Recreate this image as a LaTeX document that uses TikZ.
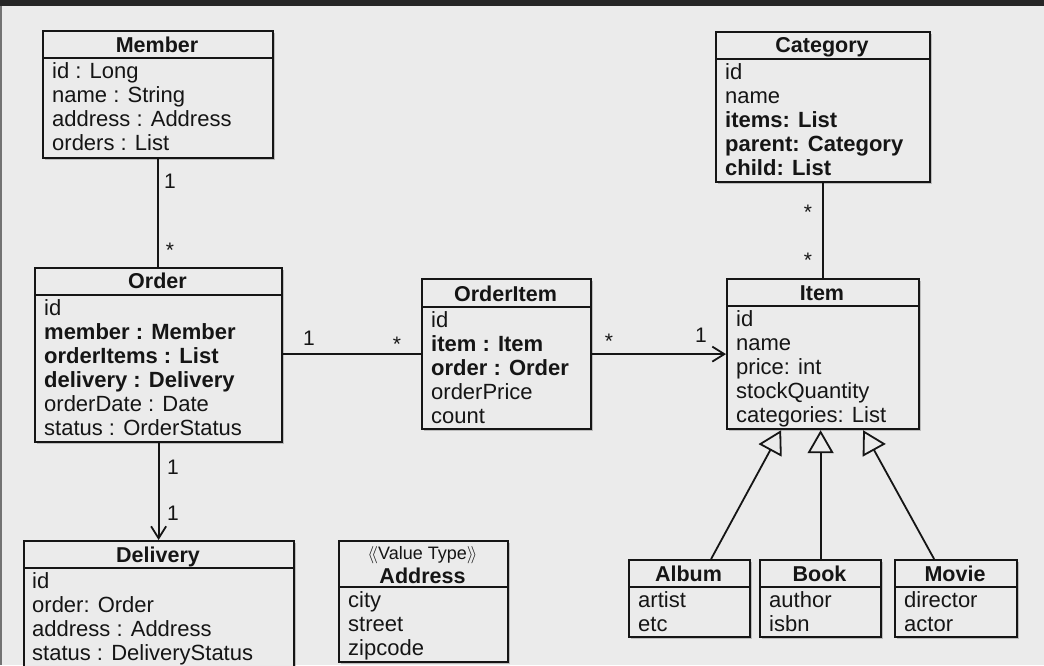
\documentclass[tikz,border=0pt]{standalone}
\usepackage{fontspec}
\setmainfont{Liberation Sans}
\usetikzlibrary{arrows.meta,shadows,calc}
\definecolor{bgc}{HTML}{EBEBEB}
\definecolor{barc}{HTML}{262626}
\definecolor{ink}{HTML}{151515}
\tikzset{
  box/.style={draw=ink, line width=2.2pt, fill=bgc, rectangle, inner sep=0pt, anchor=north west,
    drop shadow={shadow xshift=1.5pt, shadow yshift=-2pt, opacity=0.35, fill=black!60}},
  hline/.style={draw=ink, line width=2pt},
  attr/.style={anchor=base west, inner sep=0pt, text=ink, font=\fontsize{22}{24}\selectfont},
  ttl/.style={anchor=base, inner sep=0pt, text=ink, font=\fontsize{21.5}{24}\selectfont\bfseries},
  stereo/.style={anchor=base, inner sep=0pt, text=ink, font=\fontsize{18}{20}\selectfont},
  mult/.style={anchor=base, inner sep=0pt, text=ink, font=\fontsize{21}{24}\selectfont},
  assoc/.style={draw=ink, line width=1.8pt},
  nav/.style={assoc, -{Straight Barb[length=12pt,width=15pt]}},
  gen/.style={assoc, -{Triangle[open,length=23pt,width=26pt,fill=bgc]}},
}
% name, x1, y1, x2, y2, header y, title baseline, title
\newcommand\umlclass[8]{%
  \node[box, minimum width={#4-#2}, minimum height={#5-#3}] (#1) at (#2,#3) {};
  \draw[hline] (#2,#6) -- (#4,#6);
  \node[ttl] (#1-title) at ({(#2+#4)/2},#7) {#8};
}
% name, x, first baseline, list
\newcommand\umlattrs[4]{%
  \foreach \txt [count=\i] in {#4} {\node[attr] (#1-a\i) at (#2,{#3+24*(\i-1)}) {\txt};}
}
\begin{document}
\begin{tikzpicture}[x=1pt,y=-1pt]
\useasboundingbox (0,0) rectangle (1044,665);
\clip (0,0) rectangle (1044,665);
\fill[bgc] (0,0) rectangle (1044,665);
\fill[barc] (0,0) rectangle (1044,6);
\fill[black!55] (0,6) rectangle (1.5,665);

% classes
\umlclass{member}{42}{30}{272}{157}{58}{52}{Member}
\umlattrs{member}{52}{78}{id : Long, name : String, address : Address, orders : List}

\umlclass{order}{34}{267}{281}{441}{295}{288}{Order}
\umlattrs{order}{44}{315}{id, {\bfseries member : Member}, {\bfseries orderItems : List}, {\bfseries delivery : Delivery}, orderDate : Date, status : OrderStatus}

\umlclass{orderitem}{421}{278}{590}{428}{307}{301}{OrderItem}
\umlattrs{orderitem}{431}{327}{id, {\bfseries item : Item}, {\bfseries order : Order}, orderPrice, count}

\umlclass{item}{726}{278}{918}{428}{306}{300}{Item}
\umlattrs{item}{736}{326}{id, name, price: int, stockQuantity, categories: List}

\umlclass{category}{715}{31}{929}{181}{59}{52}{Category}
\umlattrs{category}{725}{79}{id, name, {\bfseries items: List}, {\bfseries parent: Category}, {\bfseries child: List}}

\umlclass{delivery}{23}{540}{293}{690}{568}{562}{Delivery}
\umlattrs{delivery}{32}{588}{id, order: Order, address : Address, status : DeliveryStatus}

\umlclass{address}{338}{540}{507}{661}{587}{583}{Address}
\node[stereo] (address-stereo) at (422.5,559) {$\langle\!\langle$Value Type$\rangle\!\rangle$};
\umlattrs{address}{348}{607}{city, street, zipcode}

\umlclass{album}{628}{559}{749}{636}{587}{581}{Album}
\umlattrs{album}{638}{607}{artist, etc}
\umlclass{book}{759}{559}{880}{636}{587}{581}{Book}
\umlattrs{book}{769}{607}{author, isbn}
\umlclass{movie}{894}{559}{1016}{636}{587}{581}{Movie}
\umlattrs{movie}{904}{607}{director, actor}

% connectors
\draw[assoc] (member.south) -- (member.south |- order.north);
\draw[nav] (order.south) -- (order.south |- delivery.north);
\draw[assoc] (order.east |- orderitem.west) -- (orderitem.west);
\draw[nav] (orderitem.east) -- (item.west);
\draw[assoc] (category.south) -- (item.north);
\draw[gen] ($(album.north)+(21.5,0)$) -- ($(item.south)+(-42,0)$);
\draw[gen] (book.north) -- (book.north |- item.south);
\draw[gen] ($(movie.north)+(-22,0)$) -- ($(item.south)+(40,0)$);

% multiplicities
\node[mult] (m-mem1) at (170,188.5) {1};
\node[mult] (m-mem2) at (170,257) {*};
\node[mult] (m-oi1) at (309,345.5) {1};
\node[mult] (m-oi2) at (397,351) {*};
\node[mult] (m-it1) at (609,348) {*};
\node[mult] (m-it2) at (701,342.5) {1};
\node[mult] (m-del1) at (173,474.5) {1};
\node[mult] (m-del2) at (173,520.5) {1};
\node[mult] (m-cat1) at (808,219) {*};
\node[mult] (m-cat2) at (808,267) {*};
\end{tikzpicture}
\end{document}
